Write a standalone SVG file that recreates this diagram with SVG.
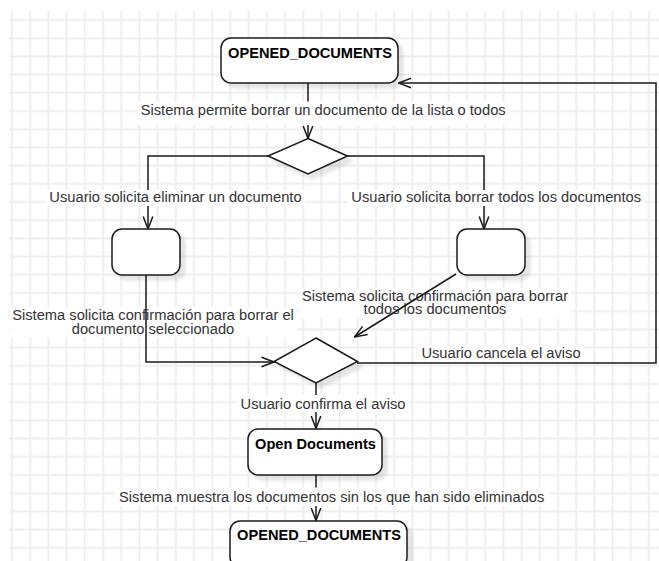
<svg xmlns="http://www.w3.org/2000/svg" width="659" height="561" viewBox="0 0 659 561">
  <defs>
    <pattern id="grid" x="2.9" y="10.9" width="18.2" height="18.2" patternUnits="userSpaceOnUse">
      <path d="M9.1 0 V18.2 M0 9.1 H18.2" fill="none" stroke="#ededed" stroke-width="1.8"/>
    </pattern>
    <filter id="shadow" x="-20%" y="-20%" width="150%" height="160%">
      <feGaussianBlur in="SourceAlpha" stdDeviation="1.6"/>
      <feOffset dx="4.5" dy="4.5" result="blur"/>
      <feFlood flood-color="#000" flood-opacity="0.1"/>
      <feComposite in2="blur" operator="in" result="sh"/>
      <feMerge>
        <feMergeNode in="sh"/>
        <feMergeNode in="SourceGraphic"/>
      </feMerge>
    </filter>
    <marker id="open" viewBox="0 0 14 12" refX="13" refY="6" markerWidth="14" markerHeight="12" markerUnits="userSpaceOnUse" orient="auto">
      <path d="M0.5 1.2 L13 6 L0.5 10.8" fill="none" stroke="#1a1a1a" stroke-width="1.5"/>
    </marker>
  </defs>
  <style>
    .node { fill: #fff; stroke: #1a1a1a; stroke-width: 1.5; filter: url(#shadow); }
    .title { font-family: "Liberation Sans", Arial, sans-serif; font-size: 14.6px; font-weight: bold; fill: #000; text-anchor: middle; }
    .edge { fill: none; stroke: #1a1a1a; stroke-width: 1.5; }
    .lbl { font-family: "Liberation Sans", Arial, sans-serif; font-size: 14.7px; fill: #333; text-anchor: middle; }
    .bg { fill: #fff; }
  </style>

  <rect width="659" height="561" fill="#fff"/>
  <rect x="9" y="11" width="650" height="550" fill="url(#grid)"/>

  <!-- labels that sit beneath their crossing connectors -->
  <g id="labels-under">
    <rect class="bg" x="10" y="307" width="287" height="30"/>
    <text class="lbl" x="153" y="320">Sistema solicita confirmación para borrar el</text>
    <text class="lbl" x="153" y="333.5">documento seleccionado</text>
    <rect class="bg" x="299" y="288" width="272" height="30"/>
    <text class="lbl" x="435" y="300.5">Sistema solicita confirmación para borrar</text>
    <text class="lbl" x="435" y="314">todos los documentos</text>
    <rect class="bg" x="418" y="345.5" width="166" height="16.5"/>
    <text class="lbl" x="501" y="358.3">Usuario cancela el aviso</text>
  </g>

  <g id="connectors">
    <path class="edge" d="M308 83 V138.5" marker-end="url(#open)"/>
    <path class="edge" d="M268 156 H148 V229" marker-end="url(#open)"/>
    <path class="edge" d="M347 156 H484 V229" marker-end="url(#open)"/>
    <path class="edge" d="M146 275 V362 H274" marker-end="url(#open)"/>
    <path class="edge" d="M456 274 L354.5 337" marker-end="url(#open)"/>
    <path class="edge" d="M357 363 H656 V83 H398.5" marker-end="url(#open)"/>
    <path class="edge" d="M316 383 V428.5" marker-end="url(#open)"/>
    <path class="edge" d="M316 475 V520.5" marker-end="url(#open)"/>
  </g>

  <!-- labels that hide the connector passing through them -->
  <g id="labels-over">
    <rect class="bg" x="136" y="101.5" width="374" height="23.5"/>
    <text class="lbl" x="323.2" y="115">Sistema permite borrar un documento de la lista o todos</text>
    <rect class="bg" x="46" y="190" width="259" height="16"/>
    <text class="lbl" x="175.5" y="202">Usuario solicita eliminar un documento</text>
    <rect class="bg" x="347" y="190" width="298" height="16"/>
    <text class="lbl" x="496.2" y="202">Usuario solicita borrar todos los documentos</text>
    <rect class="bg" x="237" y="395" width="172" height="17"/>
    <text class="lbl" x="323" y="408.5">Usuario confirma el aviso</text>
    <rect class="bg" x="115" y="487.5" width="434" height="18.5"/>
    <text class="lbl" x="331.7" y="501.7">Sistema muestra los documentos sin los que han sido eliminados</text>
  </g>

  <g id="opened-documents-top">
    <rect class="node" x="221" y="38" width="177" height="45" rx="10"/>
    <text class="title" x="310" y="58">OPENED_DOCUMENTS</text>
  </g>
  <g id="decision-delete">
    <path class="node" d="M308 138.5 L347.5 156 L308 174 L268 156 Z"/>
  </g>
  <g id="delete-one">
    <rect class="node" x="112" y="229" width="68" height="46" rx="10"/>
  </g>
  <g id="delete-all">
    <rect class="node" x="457" y="229" width="68" height="46" rx="10"/>
  </g>
  <g id="decision-confirm">
    <path class="node" d="M316 338 L357.5 361.5 L316 383 L274 361.5 Z"/>
  </g>
  <g id="open-documents">
    <rect class="node" x="248" y="429" width="134" height="46" rx="10"/>
    <text class="title" x="315.5" y="449.3">Open Documents</text>
  </g>
  <g id="opened-documents-bottom">
    <rect class="node" x="230" y="521" width="177" height="46" rx="10"/>
    <text class="title" x="319" y="540">OPENED_DOCUMENTS</text>
  </g>
</svg>
